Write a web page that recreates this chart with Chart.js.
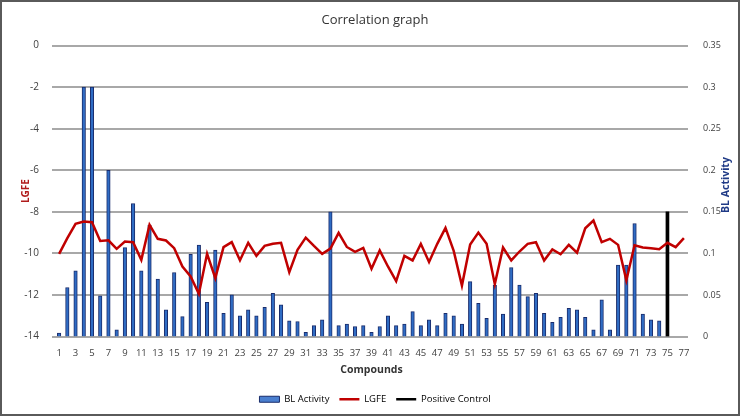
<!DOCTYPE html>
<html>
<head>
<meta charset="utf-8">
<script src="https://cdn.jsdelivr.net/npm/chart.js@4"></script>
<style>
  html, body { margin: 0; padding: 0; background: #fff; }
  #wrap { width: 736px; height: 412px; border: 2px solid #5a5a5a; position: relative; }
  canvas { display: block; }
</style>
</head>
<body>
<div id="wrap"><canvas id="chart" width="736" height="412"></canvas></div>
<script>
const compounds = Array.from({ length: 77 }, (_, i) => String(i + 1));

const blActivity = [
  0.004, 0.059, 0.079, 0.30, 0.30, 0.049, 0.20, 0.008, 0.107, 0.16,
  0.079, 0.134, 0.069, 0.032, 0.077, 0.024, 0.099, 0.110, 0.041, 0.104,
  0.028, 0.050, 0.025, 0.032, 0.025, 0.035, 0.052, 0.038, 0.019, 0.018,
  0.005, 0.013, 0.020, 0.150, 0.013, 0.015, 0.012, 0.013, 0.005, 0.012,
  0.025, 0.013, 0.015, 0.030, 0.013, 0.020, 0.013, 0.028, 0.025, 0.015,
  0.066, 0.040, 0.022, 0.062, 0.027, 0.083, 0.062, 0.048, 0.052, 0.028,
  0.017, 0.023, 0.034, 0.032, 0.023, 0.008, 0.044, 0.008, 0.086, 0.086,
  0.136, 0.027, 0.020, 0.019, null, null, null
];

const lgfe = [
  -10.02, -9.27, -8.58, -8.47, -8.50, -9.40, -9.37, -9.78, -9.43, -9.46,
  -10.31, -8.63, -9.30, -9.38, -9.75, -10.63, -11.11, -11.95, -10.02, -11.19,
  -9.70, -9.46, -10.33, -9.49, -10.12, -9.64, -9.54, -9.49, -10.90, -9.83,
  -9.24, -9.64, -10.02, -9.77, -9.01, -9.69, -9.93, -9.74, -10.74, -9.86,
  -10.63, -11.34, -10.12, -10.34, -9.54, -10.41, -9.54, -8.77, -9.88, -11.55,
  -9.57, -9.00, -9.54, -11.48, -9.72, -10.34, -9.91, -9.54, -9.46, -10.34,
  -9.81, -10.04, -9.59, -9.97, -8.79, -8.42, -9.46, -9.30, -9.59, -11.29,
  -9.61, -9.72, -9.75, -9.80, -9.49, -9.70, -9.27
];

// positive control only at compound 75
const positiveControl = compounds.map((c) => (c === "75" ? 0.15 : null));

const tickColor = "#404040";
const gridColor = "#a8a8a8";

// horizontal gridlines from the left axis ticks
const gridLines = {
  id: "gridLines",
  beforeDatasetsDraw(chart) {
    const { ctx, chartArea, scales } = chart;
    const y = scales.y;
    ctx.save();
    ctx.strokeStyle = gridColor;
    ctx.lineWidth = 2;
    y.ticks.forEach((t) => {
      const py = Math.round(y.getPixelForValue(t.value));
      ctx.beginPath();
      ctx.moveTo(chartArea.left - 3, py);
      ctx.lineTo(chartArea.right, py);
      ctx.stroke();
    });
    ctx.restore();
  }
};

// right axis title reads bottom-to-top like the original
const rightTitle = {
  id: "rightTitle",
  afterDraw(chart) {
    const { ctx, scales } = chart;
    const y2 = scales.y2;
    ctx.save();
    ctx.translate(y2.right - 8, (y2.top + y2.bottom) / 2 - 6);
    ctx.rotate(-Math.PI / 2);
    ctx.fillStyle = "#1f3a86";
    ctx.font = "bold 10.5px 'Open Sans'";
    ctx.textAlign = "center";
    ctx.textBaseline = "middle";
    ctx.fillText("BL Activity", 0, 0);
    ctx.restore();
  }
};

new Chart(document.getElementById("chart").getContext("2d"), {
  type: "bar",
  data: {
    labels: compounds,
    datasets: [
      {
        type: "line",
        label: "LGFE",
        data: lgfe,
        yAxisID: "y",
        borderColor: "#c00000",
        backgroundColor: "#c00000",
        borderWidth: 2.5,
        pointRadius: 0,
        tension: 0,
        order: 0
      },
      {
        type: "bar",
        label: "BL Activity",
        data: blActivity,
        yAxisID: "y2",
        backgroundColor: "#2f6cc4",
        borderColor: "#1a2c6b",
        borderWidth: 1,
        barThickness: 3.5,
        grouped: false,
        order: 1
      },
      {
        type: "bar",
        label: "Positive Control",
        data: positiveControl,
        yAxisID: "y2",
        backgroundColor: "#000000",
        borderColor: "#000000",
        borderWidth: 0,
        barThickness: 3,
        grouped: false,
        order: 1
      }
    ]
  },
  options: {
    responsive: false,
    animation: false,
    layout: { padding: { left: 14, right: 4, top: 0, bottom: 0 } },
    plugins: {
      title: {
        display: true,
        text: "Correlation graph",
        color: "#333",
        font: { family: "'Open Sans'", size: 13, weight: "normal" },
        padding: { top: 10, bottom: 18 }
      },
      legend: {
        position: "bottom",
        labels: {
          color: "#333",
          font: { family: "'Open Sans'", size: 9.5 },
          usePointStyle: true,
          pointStyleWidth: 20,
          boxHeight: 6,
          padding: 10,
          generateLabels() {
            return [
              { text: "BL Activity", pointStyle: "rect", fillStyle: "#4a7fcf", strokeStyle: "#1a2c6b", lineWidth: 1, datasetIndex: 1 },
              { text: "LGFE", pointStyle: "line", fillStyle: "#c00000", strokeStyle: "#c00000", lineWidth: 2.5, datasetIndex: 0 },
              { text: "Positive Control", pointStyle: "line", fillStyle: "#000", strokeStyle: "#000", lineWidth: 2.5, datasetIndex: 2 }
            ];
          }
        }
      },
      tooltip: { enabled: false }
    },
    scales: {
      x: {
        type: "category",
        offset: true,
        grid: { display: false },
        border: { display: false },
        ticks: {
          color: tickColor,
          font: { family: "'Open Sans'", size: 9.5 },
          autoSkip: false,
          maxRotation: 0,
          callback(value, index) {
            return index % 2 === 0 ? compounds[index] : "";
          }
        },
        title: {
          display: true,
          text: "Compounds",
          color: "#333",
          font: { family: "'Open Sans'", size: 10.5, weight: "bold" },
          padding: { top: 2, bottom: 8 }
        }
      },
      y: {
        type: "linear",
        position: "left",
        min: -14,
        max: 0,
        afterFit(scale) { scale.width = 39; },
        grid: { display: false },
        border: { display: false },
        ticks: {
          stepSize: 2,
          color: tickColor,
          font: { family: "'Open Sans'", size: 10 },
          padding: 8
        },
        title: {
          display: true,
          text: "LGFE",
          color: "#b01c1c",
          font: { family: "'Open Sans'", size: 10, weight: "bold" },
          padding: { top: 4, bottom: 0 }
        }
      },
      y2: {
        type: "linear",
        position: "right",
        min: 0,
        max: 0.35,
        grid: { display: false },
        border: { display: false },
        afterFit(scale) { scale.width = 46; },
        ticks: {
          stepSize: 0.05,
          color: tickColor,
          font: { family: "'Open Sans'", size: 9 },
          padding: 7,
          callback(value) {
            return Number(value.toFixed(2)).toString();
          }
        }
      }
    }
  },
  plugins: [gridLines, rightTitle]
});
</script>
</body>
</html>
